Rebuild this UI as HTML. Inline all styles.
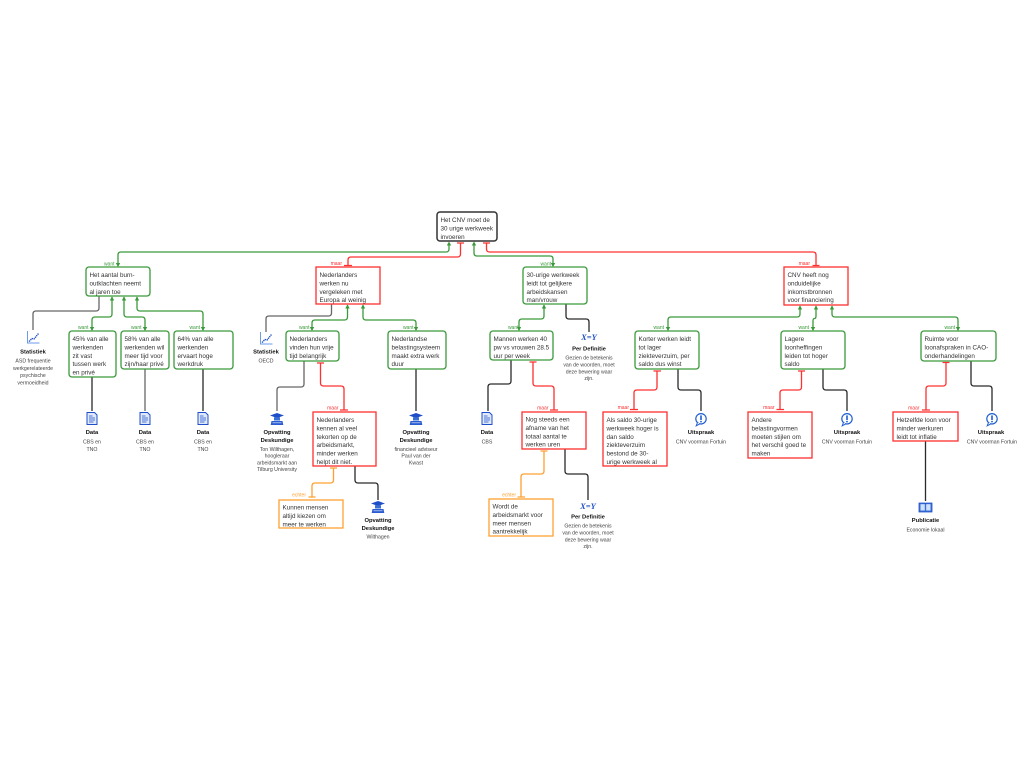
<!DOCTYPE html>
<html>
<head>
<meta charset="utf-8">
<style>
html,body{margin:0;padding:0;background:#fff;}
svg{display:block;}
.bt{font-family:"Liberation Sans",Arial,sans-serif;font-size:6.3px;fill:#333;}
.lb{font-family:"Liberation Sans",Arial,sans-serif;font-size:5px;}
.tt{font-family:"Liberation Sans",Arial,sans-serif;font-size:5.8px;font-weight:bold;fill:#111;text-anchor:middle;}
.st{font-family:"Liberation Sans",Arial,sans-serif;font-size:5.2px;fill:#444;text-anchor:middle;}
.g{stroke:#3a9a3a;stroke-width:1.3;fill:none;}
.r{stroke:#ff3030;stroke-width:1.3;fill:none;}
.o{stroke:#ffa030;stroke-width:1.3;fill:none;}
.k{stroke:#2a2a2a;stroke-width:1.3;fill:none;}
.k2{stroke:#666;stroke-width:1.3;fill:none;}
.ga{fill:#3a9a3a;}
</style>
</head>
<body>
<svg width="1024" height="768" viewBox="0 0 1024 768" xmlns="http://www.w3.org/2000/svg">
<defs>
 <g id="ic-stat">
  <path d="M1 0 V12 H13" stroke="#6b9be8" stroke-width="1" fill="none"/>
  <path d="M2.5 10.5 L5.5 7.5 L7.5 8 L12 2.5" stroke="#1f4fc8" stroke-width="1.4" stroke-dasharray="1.3 0.7" fill="none"/>
 </g>
 <g id="ic-data">
  <path d="M0.5 0.5 H8 L10.5 3 V12.5 H0.5 Z" fill="#dfe9fb" stroke="#1f4fc8" stroke-width="1"/>
  <path d="M2.5 4 H6 M2.5 6 H8.5 M2.5 8 H8.5 M2.5 10 H7" stroke="#1f4fc8" stroke-width="0.8"/>
 </g>
 <g id="ic-opv">
  <path d="M7.5 0 L14.5 2.5 L7.5 5 L0.5 2.5Z" fill="#1f4fc8"/>
  <rect x="4.5" y="4.2" width="6" height="3.3" fill="#3b6fd8"/>
  <path d="M2 8 H13 L13.8 12 H1.2Z" fill="#2a5bd0"/>
  <path d="M3 9.8 H12" stroke="#cfe0fb" stroke-width="0.7"/>
 </g>
 <g id="ic-uit">
  <circle cx="0" cy="5.8" r="5.2" fill="#fff" stroke="#1f5fd0" stroke-width="1.2"/>
  <path d="M-3.5 9.5 L-4.8 12.8 L-1 10.8" fill="#fff" stroke="#1f5fd0" stroke-width="1"/>
  <rect x="-0.8" y="2.4" width="1.6" height="4.6" fill="#1f5fd0"/>
  <circle cx="0" cy="8.6" r="0.9" fill="#1f5fd0"/>
 </g>
 <g id="ic-pub">
  <path d="M0.5 1 H6.5 L7 1.6 L7.5 1 H13.5 V10 H0.5Z" fill="#3b6fd8" stroke="#1f4fc8" stroke-width="0.8"/>
  <rect x="2" y="2.2" width="4.3" height="6.3" fill="#cfe0fb"/>
  <rect x="7.7" y="2.2" width="4.3" height="6.3" fill="#cfe0fb"/>
 </g>
</defs>

<!-- ========== CONNECTORS ========== -->
<!-- root -> children -->
<path class="g" d="M449 243 V249 Q449 252 446 252 H121 Q118 252 118 255 V266"/>
<path class="r" d="M460.5 243 V254 Q460.5 257 457.5 257 H351 Q348 257 348 260 V265.5"/>
<path class="r" d="M457 243 H464 M344 265.5 H352"/>
<path class="g" d="M474 243 V253 Q474 256 477 256 H550 Q553 256 553 259 V266"/>
<path class="r" d="M486.5 243 V249 Q486.5 252 489.5 252 H813 Q816 252 816 255 V265.5"/>
<path class="r" d="M483 243 H490 M812.5 265.5 H819.5"/>

<!-- N1 children -->
<path class="k2" d="M99 296 V308 Q99 311 96 311 H36 Q33 311 33 314 V330"/>
<path class="g" d="M112 297 V314 Q112 317 109 317 H95 Q92 317 92 320 V330"/>
<path class="g" d="M124 297 V314 Q124 317 127 317 H142 Q145 317 145 320 V330"/>
<path class="g" d="M137 297 V308 Q137 311 140 311 H200 Q203 311 203 314 V330"/>
<path class="k" d="M92 377 V411"/>
<path class="k2" d="M145 369 V411"/>
<path class="k" d="M203 369 V411"/>

<!-- N2 children -->
<path class="k2" d="M331.5 304 V313 Q331.5 316 328.5 316 H269 Q266 316 266 319 V332"/>
<path class="g" d="M347.5 305 V317 Q347.5 320 344.5 320 H315 Q312 320 312 323 V330"/>
<path class="g" d="M363 305 V317 Q363 320 366 320 H413 Q416 320 416 323 V330"/>
<path class="k2" d="M304 361 V384 Q304 387 301 387 H280 Q277 387 277 390 V411"/>
<path class="r" d="M320.5 363 V383 Q320.5 386 323.5 386 H341 Q344 386 344 389 V410"/>
<path class="r" d="M317 363 H324 M340 410 H348"/>
<path class="k" d="M416 369 V411"/>
<path class="o" d="M333.5 468 V480 Q333.5 483 330.5 483 H315 Q312 483 312 486 V497"/>
<path class="o" d="M330 468 H337 M308.5 497 H315.5"/>
<path class="k" d="M355 466 V480 Q355 483 358 483 H375 Q378 483 378 486 V500"/>

<!-- N3 children -->
<path class="g" d="M544 305 V316 Q544 319 541 319 H522 Q519 319 519 322 V330"/>
<path class="k" d="M566 304 V316 Q566 319 569 319 H586 Q589 319 589 322 V332"/>
<path class="k" d="M511 360 V381 Q511 384 508 384 H491 Q488 384 488 387 V411"/>
<path class="r" d="M533 362 V383 Q533 386 536 386 H551 Q554 386 554 389 V410"/>
<path class="r" d="M529.5 362 H536.5 M550 410 H558"/>
<path class="o" d="M544 451 V471 Q544 474 541 474 H524 Q521 474 521 477 V497"/>
<path class="o" d="M540.5 451 H547.5 M517.5 497 H525"/>
<path class="k" d="M565 449 V471 Q565 474 568 474 H585 Q588 474 588 477 V500"/>

<!-- N4 children -->
<path class="g" d="M800 306 V314 Q800 317 797 317 H671 Q668 317 668 320 V330"/>
<path class="g" d="M816 306 V316 Q816 318.5 814.5 318.5 Q813 318.5 813 321 V330"/>
<path class="g" d="M832 306 V314 Q832 317 835 317 H955 Q958 317 958 320 V330"/>
<path class="r" d="M657 371 V387 Q657 390 654 390 H637 Q634 390 634 393 V409.5"/>
<path class="r" d="M653.5 371 H661 M630 409.5 H638"/>
<path class="k" d="M678 369 V387 Q678 390 681 390 H698 Q701 390 701 393 V411"/>
<path class="r" d="M801.5 371 V387 Q801.5 390 798.5 390 H783 Q780 390 780 393 V409.5"/>
<path class="r" d="M798 371 H805 M776.5 409.5 H784"/>
<path class="k" d="M823 369 V387 Q823 390 826 390 H844 Q847 390 847 393 V411"/>
<path class="r" d="M946 362.5 V383 Q946 386 943 386 H929 Q926 386 926 389 V410"/>
<path class="r" d="M942.5 362.5 H949.5 M922 410 H930"/>
<path class="k" d="M971 361 V383 Q971 386 974 386 H989 Q992 386 992 389 V411"/>
<path class="k" d="M925.5 441 V501"/>

<!-- green arrowheads: up at parent -->
<g class="ga">
<polygon points="449,241.5 446.8,245.5 451.2,245.5"/>
<polygon points="474,241.5 471.8,245.5 476.2,245.5"/>
<polygon points="112,296.5 109.8,300.5 114.2,300.5"/>
<polygon points="124,296.5 121.8,300.5 126.2,300.5"/>
<polygon points="137,296.5 134.8,300.5 139.2,300.5"/>
<polygon points="347.5,304.5 345.3,308.5 349.7,308.5"/>
<polygon points="363,304.5 360.8,308.5 365.2,308.5"/>
<polygon points="544,304.5 541.8,308.5 546.2,308.5"/>
<polygon points="800,305.5 797.8,309.5 802.2,309.5"/>
<polygon points="816,305.5 813.8,309.5 818.2,309.5"/>
<polygon points="832,305.5 829.8,309.5 834.2,309.5"/>
<!-- down at child -->
<polygon points="118,267 115.8,263 120.2,263"/>
<polygon points="553,267 550.8,263 555.2,263"/>
<polygon points="92,331 89.8,327 94.2,327"/>
<polygon points="145,331 142.8,327 147.2,327"/>
<polygon points="203,331 200.8,327 205.2,327"/>
<polygon points="312,331 309.8,327 314.2,327"/>
<polygon points="416,331 413.8,327 418.2,327"/>
<polygon points="519,331 516.8,327 521.2,327"/>
<polygon points="668,331 665.8,327 670.2,327"/>
<polygon points="813,331 810.8,327 815.2,327"/>
<polygon points="958,331 955.8,327 960.2,327"/>
</g>

<!-- edge labels -->
<g class="lb" text-anchor="end">
<text x="114.5" y="265.5" fill="#3a9a3a">want</text>
<text x="342" y="265" fill="#ff3030">maar</text>
<text x="551" y="265.5" fill="#3a9a3a">want</text>
<text x="810" y="265" fill="#ff3030">maar</text>
<text x="88.5" y="329" fill="#3a9a3a">want</text>
<text x="141.5" y="329" fill="#3a9a3a">want</text>
<text x="200" y="329" fill="#3a9a3a">want</text>
<text x="309.5" y="329" fill="#3a9a3a">want</text>
<text x="413.5" y="329" fill="#3a9a3a">want</text>
<text x="518.5" y="329" fill="#3a9a3a">want</text>
<text x="664" y="329" fill="#3a9a3a">want</text>
<text x="809" y="329" fill="#3a9a3a">want</text>
<text x="955" y="329" fill="#3a9a3a">want</text>
<text x="338.5" y="409.5" fill="#ff3030">maar</text>
<text x="548.5" y="409.5" fill="#ff3030">maar</text>
<text x="629" y="409" fill="#ff3030">maar</text>
<text x="774.5" y="409" fill="#ff3030">maar</text>
<text x="919.5" y="409.5" fill="#ff3030">maar</text>
<text x="306" y="496.5" fill="#ffa030">echter</text>
<text x="516" y="496.5" fill="#ffa030">echter</text>
</g>

<!-- ========== BOXES ========== -->
<!-- root -->
<rect x="437" y="212" width="60" height="29" rx="3" fill="#fff" stroke="#333" stroke-width="1.5"/>
<text class="bt"><tspan x="440.5" y="222">Het CNV moet de</tspan><tspan x="440.5" y="230.4">30 urige werkweek</tspan><tspan x="440.5" y="238.8">invoeren</tspan></text>

<!-- N1 -->
<rect x="86" y="267" width="64" height="29" rx="3" fill="#fff" stroke="#3a9a3a" stroke-width="1.3"/>
<text class="bt"><tspan x="89.5" y="277">Het aantal burn-</tspan><tspan x="89.5" y="285.4">outklachten neemt</tspan><tspan x="89.5" y="293.8">al jaren toe</tspan></text>

<!-- N2 -->
<rect x="316" y="267" width="64" height="37" fill="#fff" stroke="#ff3030" stroke-width="1.3"/>
<text class="bt"><tspan x="319.5" y="277">Nederlanders</tspan><tspan x="319.5" y="285.4">werken nu</tspan><tspan x="319.5" y="293.8">vergeleken met</tspan><tspan x="319.5" y="302.2">Europa al weinig</tspan></text>

<!-- N3 -->
<rect x="523" y="267" width="64" height="37" rx="3" fill="#fff" stroke="#3a9a3a" stroke-width="1.3"/>
<text class="bt"><tspan x="526.5" y="277">30-urige werkweek</tspan><tspan x="526.5" y="285.4">leidt tot gelijkere</tspan><tspan x="526.5" y="293.8">arbeidskansen</tspan><tspan x="526.5" y="302.2">man/vrouw</tspan></text>

<!-- N4 -->
<rect x="784" y="267" width="64" height="38" fill="#fff" stroke="#ff3030" stroke-width="1.3"/>
<text class="bt"><tspan x="787.5" y="277">CNV heeft nog</tspan><tspan x="787.5" y="285.4">onduidelijke</tspan><tspan x="787.5" y="293.8">inkomstbronnen</tspan><tspan x="787.5" y="302.2">voor financiering</tspan></text>

<!-- A -->
<rect x="69" y="331" width="47" height="46" rx="3" fill="#fff" stroke="#3a9a3a" stroke-width="1.3"/>
<text class="bt"><tspan x="72.5" y="341">45% van alle</tspan><tspan x="72.5" y="349.4">werkenden</tspan><tspan x="72.5" y="357.8">zit vast</tspan><tspan x="72.5" y="366.2">tussen werk</tspan><tspan x="72.5" y="374.6">en privé</tspan></text>

<!-- B -->
<rect x="121" y="331" width="48" height="38" rx="3" fill="#fff" stroke="#3a9a3a" stroke-width="1.3"/>
<text class="bt"><tspan x="124.5" y="341">58% van alle</tspan><tspan x="124.5" y="349.4">werkenden wil</tspan><tspan x="124.5" y="357.8">meer tijd voor</tspan><tspan x="124.5" y="366.2">zijn/haar privé</tspan></text>

<!-- C -->
<rect x="174" y="331" width="59" height="38" rx="3" fill="#fff" stroke="#3a9a3a" stroke-width="1.3"/>
<text class="bt"><tspan x="177.5" y="341">64% van alle</tspan><tspan x="177.5" y="349.4">werkenden</tspan><tspan x="177.5" y="357.8">ervaart hoge</tspan><tspan x="177.5" y="366.2">werkdruk</tspan></text>

<!-- D -->
<rect x="286" y="331" width="53" height="30" rx="3" fill="#fff" stroke="#3a9a3a" stroke-width="1.3"/>
<text class="bt"><tspan x="289.5" y="341">Nederlanders</tspan><tspan x="289.5" y="349.4">vinden hun vrije</tspan><tspan x="289.5" y="357.8">tijd belangrijk</tspan></text>

<!-- E -->
<rect x="388" y="331" width="58" height="38" rx="3" fill="#fff" stroke="#3a9a3a" stroke-width="1.3"/>
<text class="bt"><tspan x="391.5" y="341">Nederlandse</tspan><tspan x="391.5" y="349.4">belastingsysteem</tspan><tspan x="391.5" y="357.8">maakt extra werk</tspan><tspan x="391.5" y="366.2">duur</tspan></text>

<!-- F -->
<rect x="313" y="412" width="63" height="54" fill="#fff" stroke="#ff3030" stroke-width="1.3"/>
<text class="bt"><tspan x="316.5" y="422">Nederlanders</tspan><tspan x="316.5" y="430.4">kennen al veel</tspan><tspan x="316.5" y="438.8">tekorten op de</tspan><tspan x="316.5" y="447.2">arbeidsmarkt,</tspan><tspan x="316.5" y="455.6">minder werken</tspan><tspan x="316.5" y="464">helpt dit niet.</tspan></text>

<!-- G -->
<rect x="279" y="500" width="64" height="28" fill="#fff" stroke="#ffa030" stroke-width="1.3"/>
<text class="bt"><tspan x="282.5" y="509.5">Kunnen mensen</tspan><tspan x="282.5" y="517.9">altijd kiezen om</tspan><tspan x="282.5" y="526.3">meer te werken</tspan></text>

<!-- H -->
<rect x="490" y="331" width="63" height="29" rx="3" fill="#fff" stroke="#3a9a3a" stroke-width="1.3"/>
<text class="bt"><tspan x="493.5" y="341">Mannen werken 40</tspan><tspan x="493.5" y="349.4">pw vs vrouwen 28.5</tspan><tspan x="493.5" y="357.8">uur per week</tspan></text>

<!-- I -->
<rect x="522" y="412" width="64" height="37" fill="#fff" stroke="#ff3030" stroke-width="1.3"/>
<text class="bt"><tspan x="525.5" y="421.5">Nog steeds een</tspan><tspan x="525.5" y="429.9">afname van het</tspan><tspan x="525.5" y="438.3">totaal aantal te</tspan><tspan x="525.5" y="446.7">werken uren</tspan></text>

<!-- J -->
<rect x="489" y="499" width="64" height="37" fill="#fff" stroke="#ffa030" stroke-width="1.3"/>
<text class="bt"><tspan x="492.5" y="508.5">Wordt de</tspan><tspan x="492.5" y="516.9">arbeidsmarkt voor</tspan><tspan x="492.5" y="525.3">meer mensen</tspan><tspan x="492.5" y="533.7">aantrekkelijk</tspan></text>

<!-- K -->
<rect x="635" y="331" width="64" height="38" rx="3" fill="#fff" stroke="#3a9a3a" stroke-width="1.3"/>
<text class="bt"><tspan x="638.5" y="341">Korter werken leidt</tspan><tspan x="638.5" y="349.4">tot lager</tspan><tspan x="638.5" y="357.8">ziekteverzuim, per</tspan><tspan x="638.5" y="366.2">saldo dus winst</tspan></text>

<!-- L -->
<rect x="781" y="331" width="64" height="38" rx="3" fill="#fff" stroke="#3a9a3a" stroke-width="1.3"/>
<text class="bt"><tspan x="784.5" y="341">Lagere</tspan><tspan x="784.5" y="349.4">loonheffingen</tspan><tspan x="784.5" y="357.8">leiden tot hoger</tspan><tspan x="784.5" y="366.2">saldo</tspan></text>

<!-- M -->
<rect x="921" y="331" width="75" height="30" rx="3" fill="#fff" stroke="#3a9a3a" stroke-width="1.3"/>
<text class="bt"><tspan x="924.5" y="341">Ruimte voor</tspan><tspan x="924.5" y="349.4">loonafspraken in CAO-</tspan><tspan x="924.5" y="357.8">onderhandelingen</tspan></text>

<!-- N -->
<rect x="603" y="412" width="64" height="54" fill="#fff" stroke="#ff3030" stroke-width="1.3"/>
<text class="bt"><tspan x="606.5" y="422">Als saldo 30-urige</tspan><tspan x="606.5" y="430.4">werkweek hoger is</tspan><tspan x="606.5" y="438.8">dan saldo</tspan><tspan x="606.5" y="447.2">ziekteverzuim</tspan><tspan x="606.5" y="455.6">bestond de 30-</tspan><tspan x="606.5" y="464">urige werkweek al</tspan></text>

<!-- O -->
<rect x="748" y="412" width="64" height="46" fill="#fff" stroke="#ff3030" stroke-width="1.3"/>
<text class="bt"><tspan x="751.5" y="422">Andere</tspan><tspan x="751.5" y="430.4">belastingvormen</tspan><tspan x="751.5" y="438.8">moeten stijlen om</tspan><tspan x="751.5" y="447.2">het verschil goed te</tspan><tspan x="751.5" y="455.6">maken</tspan></text>

<!-- P -->
<rect x="893" y="412" width="65" height="29" fill="#fff" stroke="#ff3030" stroke-width="1.3"/>
<text class="bt"><tspan x="896.5" y="422">Hetzelfde loon voor</tspan><tspan x="896.5" y="430.4">minder werkuren</tspan><tspan x="896.5" y="438.8">leidt tot inflatie</tspan></text>

<!-- ========== ICON NODES ========== -->
<!-- Statistiek N1 -->
<use href="#ic-stat" transform="translate(26.5,331)"/>
<text class="tt" x="33" y="353.5">Statistiek</text>
<text class="st"><tspan x="33" y="362.7">ASD frequentie</tspan><tspan x="33" y="369.9">werkgerelateerde</tspan><tspan x="33" y="377.1">psychische</tspan><tspan x="33" y="384.3">vermoeidheid</tspan></text>

<!-- Statistiek N2 -->
<use href="#ic-stat" transform="translate(259.5,332)"/>
<text class="tt" x="266" y="353.5">Statistiek</text>
<text class="st" x="266" y="362.7">OECD</text>

<!-- Data x3 -->
<use href="#ic-data" transform="translate(86.5,412)"/>
<text class="tt" x="92" y="434">Data</text>
<text class="st"><tspan x="92" y="443.5">CBS en</tspan><tspan x="92" y="451">TNO</tspan></text>
<use href="#ic-data" transform="translate(139.5,412)"/>
<text class="tt" x="145" y="434">Data</text>
<text class="st"><tspan x="145" y="443.5">CBS en</tspan><tspan x="145" y="451">TNO</tspan></text>
<use href="#ic-data" transform="translate(197.5,412)"/>
<text class="tt" x="203" y="434">Data</text>
<text class="st"><tspan x="203" y="443.5">CBS en</tspan><tspan x="203" y="451">TNO</tspan></text>

<!-- Opvatting D -->
<use href="#ic-opv" transform="translate(269.5,413)"/>
<text class="tt"><tspan x="277" y="434">Opvatting</tspan><tspan x="277" y="442">Deskundige</tspan></text>
<text class="st"><tspan x="277" y="451">Ton Wilthagen,</tspan><tspan x="277" y="457.7">hoogleraar</tspan><tspan x="277" y="464.4">arbeidsmarkt aan</tspan><tspan x="277" y="471.1">Tilburg University</tspan></text>

<!-- Opvatting E -->
<use href="#ic-opv" transform="translate(408.5,413)"/>
<text class="tt"><tspan x="416" y="434">Opvatting</tspan><tspan x="416" y="442">Deskundige</tspan></text>
<text class="st"><tspan x="416" y="451">financieel adviseur</tspan><tspan x="416" y="457.7">Paul van der</tspan><tspan x="416" y="464.4">Kwast</tspan></text>

<!-- Opvatting F -->
<use href="#ic-opv" transform="translate(370.5,501)"/>
<text class="tt"><tspan x="378" y="522">Opvatting</tspan><tspan x="378" y="530">Deskundige</tspan></text>
<text class="st" x="378" y="538.7">Wilthagen</text>

<!-- Per Definitie N3 -->
<text x="589" y="340" text-anchor="middle" font-family="Liberation Serif,serif" font-size="8.5" font-style="italic" font-weight="bold" fill="#1f4fc8">X=Y</text>
<text class="tt" x="589" y="350.3">Per Definitie</text>
<text class="st"><tspan x="589" y="359.7">Gezien de betekenis</tspan><tspan x="589" y="366.5">van de woorden, moet</tspan><tspan x="589" y="373.3">deze bewering waar</tspan><tspan x="589" y="380.1">zijn.</tspan></text>

<!-- Data H -->
<use href="#ic-data" transform="translate(481.5,412)"/>
<text class="tt" x="487" y="434">Data</text>
<text class="st" x="487" y="443.5">CBS</text>

<!-- Per Definitie I -->
<text x="588" y="509" text-anchor="middle" font-family="Liberation Serif,serif" font-size="8.5" font-style="italic" font-weight="bold" fill="#1f4fc8">X=Y</text>
<text class="tt" x="588" y="518.7">Per Definitie</text>
<text class="st"><tspan x="588" y="527.7">Gezien de betekenis</tspan><tspan x="588" y="534.5">van de woorden, moet</tspan><tspan x="588" y="541.3">deze bewering waar</tspan><tspan x="588" y="548.1">zijn.</tspan></text>

<!-- Uitspraak x3 -->
<use href="#ic-uit" transform="translate(701,413)"/>
<text class="tt" x="701" y="434">Uitspraak</text>
<text class="st" x="701" y="443.5">CNV voorman Fortuin</text>
<use href="#ic-uit" transform="translate(847,413)"/>
<text class="tt" x="847" y="434">Uitspraak</text>
<text class="st" x="847" y="443.5">CNV voorman Fortuin</text>
<use href="#ic-uit" transform="translate(992,413)"/>
<text class="tt" x="991" y="434">Uitspraak</text>
<text class="st" x="992" y="443.5">CNV voorman Fortuin</text>

<!-- Publicatie -->
<use href="#ic-pub" transform="translate(918.5,502)"/>
<text class="tt" x="925.5" y="522">Publicatie</text>
<text class="st" x="925.5" y="531.5">Economie lokaal</text>
</svg>
</body>
</html>
